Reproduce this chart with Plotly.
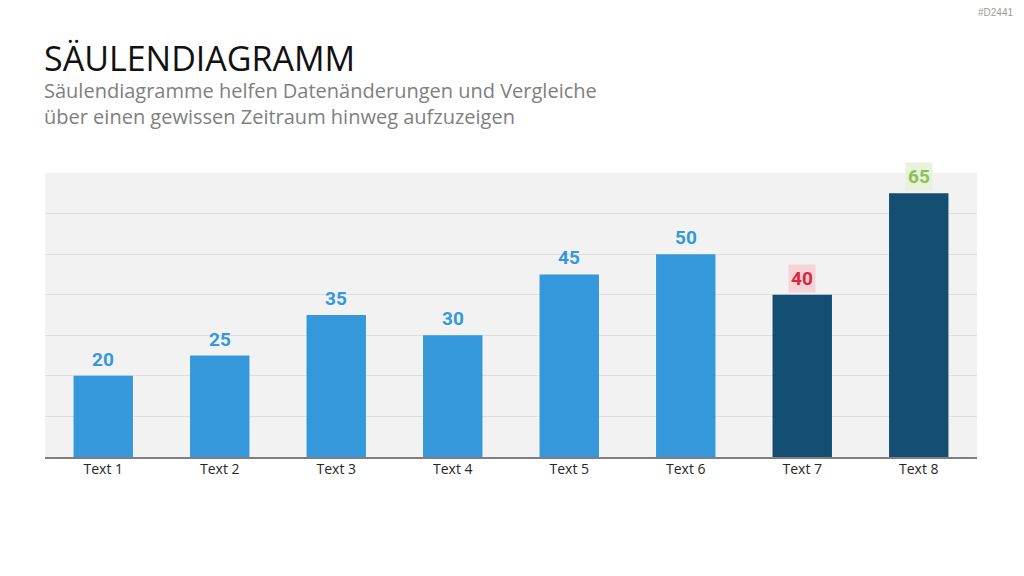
import plotly.graph_objects as go

categories = ["Text 1", "Text 2", "Text 3", "Text 4", "Text 5", "Text 6", "Text 7", "Text 8"]
values = [20, 25, 35, 30, 45, 50, 40, 65]
bar_colors = ["#3498db"] * 6 + ["#154e73", "#154e73"]
label_colors = ["#3498db"] * 6 + ["#d9263d", "#8cc152"]
label_bg = ["rgba(0,0,0,0)"] * 6 + ["#f6d3d7", "#e8f1dc"]

title = "SÄULENDIAGRAMM"
subtitle = "Säulendiagramme helfen Datenänderungen und Vergleiche<br>über einen gewissen Zeitraum hinweg aufzuzeigen"

fig = go.Figure(go.Bar(x=categories, y=values, marker=dict(color=bar_colors, line=dict(width=0)),
                       hoverinfo="skip"))

label_font = "Roboto"
for c, v, fc, bg in zip(categories, values, label_colors, label_bg):
    fig.add_annotation(x=c, y=v, xref="x", yref="y", text="<b>%d</b>" % v, showarrow=False,
                       yanchor="bottom", yshift=2, font=dict(family=label_font, size=19, color=fc),
                       bgcolor=bg, borderpad=2)

fig.add_annotation(x=0, y=1, xref="paper", yref="paper", xshift=-3, yshift=140, text=title, showarrow=False,
                   xanchor="left", yanchor="top", font=dict(family="Open Sans", size=34, color="#111111"))
fig.add_annotation(x=0, y=1, xref="paper", yref="paper", xshift=-3, yshift=98, text=subtitle, showarrow=False,
                   xanchor="left", yanchor="top", align="left",
                   font=dict(family="Open Sans", size=20, color="#808080"))
fig.add_annotation(x=1, y=1, xref="paper", yref="paper", xshift=38, yshift=168, text="#D2441", showarrow=False,
                   xanchor="right", yanchor="top", font=dict(family="Liberation Sans", size=10, color="#9a9a9a"))

fig.update_layout(
    width=1024, height=576,
    margin=dict(l=45, r=47, t=173, b=119),
    paper_bgcolor="white", plot_bgcolor="#f2f2f2",
    bargap=0.49, showlegend=False,
    xaxis=dict(showline=True, linecolor="#7f7f7f", linewidth=2, ticks="", ticklabelstandoff=-2,
               tickfont=dict(family="Open Sans", size=14, color="#262626"), fixedrange=True),
    yaxis=dict(range=[0, 70], dtick=10, showticklabels=False, gridcolor="#dedede", gridwidth=1, zeroline=False,
               fixedrange=True),
)

fig.write_html("out.html")
